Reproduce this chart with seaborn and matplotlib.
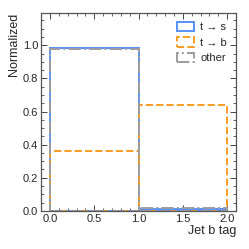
import matplotlib
matplotlib.use('Agg')
import matplotlib.pyplot as plt
import seaborn as sns
from matplotlib.ticker import MultipleLocator

# bin edges of the jet b tag and per-bin normalized content
bin_edges = [0.0, 1.0, 2.0]
bin_centers = [0.5, 1.5]
t_to_s = [0.985, 0.010]
t_to_b = [0.360, 0.640]
other = [0.975, 0.020]

labels = ['t → s', 't → b', 'other']
colors = ['#5790fc', '#f89c20', '#9c9ca1']
styles = ['-', '--', '-.']

sns.set_style('ticks')
plt.rcParams['font.family'] = ['Liberation Sans', 'DejaVu Sans']
plt.rcParams['font.size'] = 8.5

fig = plt.figure(figsize=(2.49, 2.49), dpi=100)
ax = fig.add_axes([0.165, 0.153, 0.783, 0.795])

for vals, lab, col, ls in zip([t_to_s, t_to_b, other], labels, colors, styles):
    sns.histplot(x=bin_centers, weights=vals, bins=bin_edges, element='bars',
                 fill=False, color=col, linestyle=ls, linewidth=1.4,
                 label=lab, ax=ax)

ax.set_xlim(-0.1, 2.1)
ax.set_ylim(0, 1.195)
ax.xaxis.set_major_locator(MultipleLocator(0.5))
ax.xaxis.set_minor_locator(MultipleLocator(0.1))
ax.yaxis.set_major_locator(MultipleLocator(0.2))
ax.yaxis.set_minor_locator(MultipleLocator(0.05))
ax.tick_params(which='both', direction='in', top=True, right=True, labelsize=8, pad=2)
ax.tick_params(which='major', length=4, width=0.6)
ax.tick_params(which='minor', length=2, width=0.5)
for sp in ax.spines.values():
    sp.set_linewidth(0.9)
    sp.set_color('#555555')

ax.set_xlabel('Jet b tag', loc='right', fontsize=9, labelpad=1)
ax.set_ylabel('Normalized', loc='top', fontsize=9, labelpad=2)
ax.legend(loc='upper right', frameon=False, fontsize=8, handlelength=1.5,
          handleheight=0.9, handletextpad=0.6, borderaxespad=0.4, labelspacing=0.45)

fig.savefig('out.png', dpi=100)
